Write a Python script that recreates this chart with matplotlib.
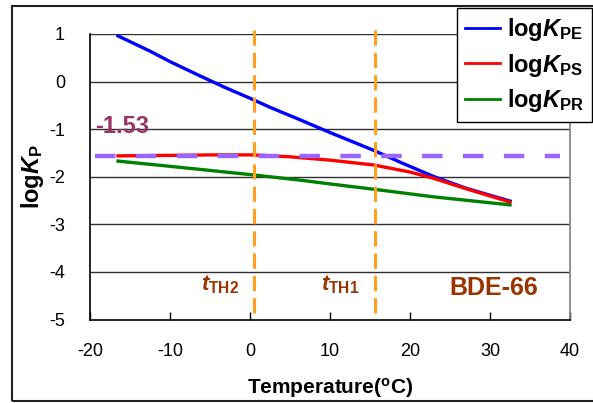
import matplotlib
matplotlib.use("Agg")
import matplotlib.pyplot as plt
from matplotlib.lines import Line2D
from matplotlib.patches import Rectangle

plt.rcParams['font.family'] = ['Liberation Sans', 'DejaVu Sans']
plt.rcParams['axes.unicode_minus'] = False
plt.rcParams['mathtext.fontset'] = 'custom'
plt.rcParams['mathtext.rm'] = 'Liberation Sans:bold'
plt.rcParams['mathtext.bf'] = 'Liberation Sans:bold'
plt.rcParams['mathtext.it'] = 'Liberation Sans:italic:bold'

# ---- data ----
temp_pe = [-16.5, -12.5, -10, -6.25, -3.3, 0, 2.5, 5.8, 10, 15.4, 19, 22.9, 27, 32.5]
log_kpe = [0.96, 0.64, 0.42, 0.12, -0.11, -0.35, -0.54, -0.77, -1.07, -1.44, -1.71, -1.99, -2.24, -2.51]

temp_ps = [-16.5, -10, -5, 0.4, 5, 10, 15.4, 20, 22.9, 27, 32.5]
log_kps = [-1.56, -1.55, -1.54, -1.54, -1.58, -1.65, -1.75, -1.90, -2.03, -2.25, -2.53]

temp_pr = [-16.5, -10, 0.4, 6.25, 10, 15.4, 22.9, 32.5]
log_kpr = [-1.67, -1.78, -1.96, -2.07, -2.15, -2.26, -2.42, -2.59]

threshold_value = -1.56
threshold_label = "-1.53"
threshold_span = [-19.4, 38.8]
t_th2 = 0.5
t_th1 = 15.6
vline_span = [1.08, -4.86]
compound = "BDE-66"

xticks = [-20, -10, 0, 10, 20, 30, 40]
yticks = [-5, -4, -3, -2, -1, 0, 1]

W, H = 593, 403
fig = plt.figure(figsize=(W / 100, H / 100), dpi=100)
ax = fig.add_axes([90 / W, 1 - 319.6 / H, 480 / W, 285.6 / H])

for y in yticks[1:]:
    ax.axhline(y, color='#303030', lw=1.0, zorder=1)

brown = '#993300'
ax.plot(temp_pe, log_kpe, color='#0000FF', lw=2.4, zorder=3)
ax.plot(temp_ps, log_kps, color='#FF0000', lw=2.4, zorder=3)
ax.plot(temp_pr, log_kpr, color='#008000', lw=2.4, zorder=3)

ax.plot(threshold_span, [threshold_value, threshold_value], color='#9966FF',
        lw=3.2, dashes=(4.6, 4.6), zorder=4)
for tv in (t_th2, t_th1):
    ax.plot([tv, tv], vline_span, color='#FFA020', lw=2.2, dashes=(5, 2.3),
            zorder=4, clip_on=False)

ax.text(-19.4, -0.94, threshold_label, color='#993366', fontsize=17,
        fontweight='bold', ha='left', va='center')
ax.text(-3.75, -4.27, r'$\mathit{t}_{\mathbf{TH2}}$', color=brown, fontsize=16,
        ha='center', va='center')
ax.text(11.25, -4.27, r'$\mathit{t}_{\mathbf{TH1}}$', color=brown, fontsize=16,
        ha='center', va='center')
ax.text(30.5, -4.34, compound, color=brown, fontsize=18, fontweight='bold',
        ha='center', va='center')

ax.set_xlim(-20, 40)
ax.set_ylim(-5, 1)
ax.set_xticks(xticks)
ax.set_yticks(yticks)
ax.tick_params(axis='x', direction='in', length=6, width=1, pad=17, labelsize=13)
ax.tick_params(axis='y', length=0, pad=18, labelsize=13)

ax.spines['top'].set_visible(False)
ax.spines['right'].set_color('#808080')
ax.spines['left'].set_color('black')
ax.spines['bottom'].set_color('black')
for s in ('left', 'bottom', 'right'):
    ax.spines[s].set_linewidth(1.2)

ax.set_xlabel(r'Temperature($^{\mathbf{o}}$C)', fontsize=15, fontweight='bold')
ax.xaxis.set_label_coords(0.5, -(388 - 319.6) / 285.6)
ax.xaxis.label.set_va('center')
ax.set_ylabel(r'$\mathbf{log}\mathit{K}_{\mathbf{P}}$', fontsize=17)
ax.yaxis.set_label_coords((33 - 90) / 480, 0.5)
ax.yaxis.label.set_va('center')

handles = [Line2D([], [], color='#0000FF', lw=2),
           Line2D([], [], color='#FF0000', lw=2),
           Line2D([], [], color='#008000', lw=2)]
labels = [r'$\mathbf{log}\mathit{K}_{\mathbf{PE}}$',
          r'$\mathbf{log}\mathit{K}_{\mathbf{PS}}$',
          r'$\mathbf{log}\mathit{K}_{\mathbf{PR}}$']
leg = fig.legend(handles, labels, loc='upper left',
                 bbox_to_anchor=(457 / W, 1 - 8 / H), bbox_transform=fig.transFigure,
                 fontsize=17, frameon=True, fancybox=False, framealpha=1,
                 edgecolor='black', handlelength=1.45, handletextpad=0.3,
                 labelspacing=0.35, borderpad=0.35, borderaxespad=0)
leg.get_frame().set_linewidth(1.0)

fig.patches.append(Rectangle((12 / W, 1 - 401 / H), (620 - 12) / W, (401 - 5.5) / H,
                             transform=fig.transFigure, fill=False,
                             edgecolor='#202020', lw=1.5))

fig.savefig('out.png', dpi=100)
